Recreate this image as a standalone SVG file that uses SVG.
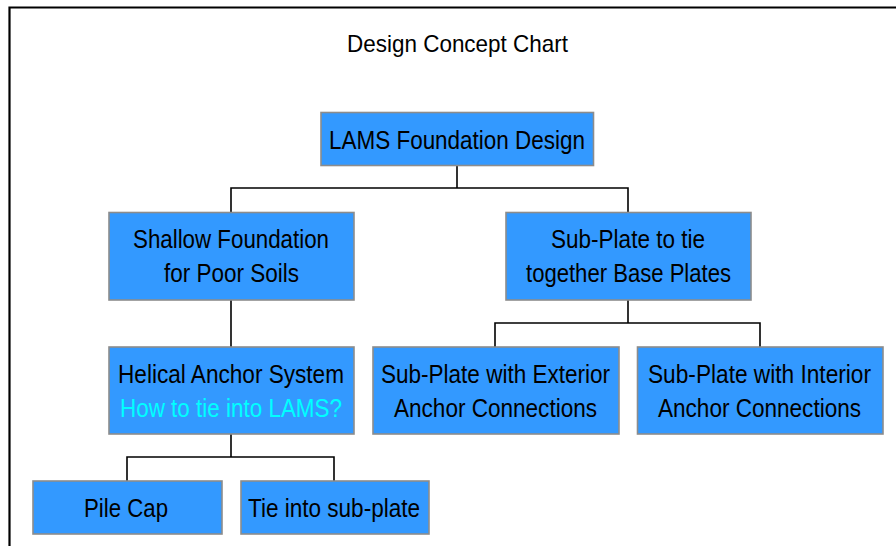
<svg xmlns="http://www.w3.org/2000/svg" width="896" height="546" viewBox="0 0 896 546">
<style>
.box{fill:#3399FF;stroke:#8C8C8C;stroke-width:1.6}
.t{font-family:"Liberation Sans",Arial,sans-serif;font-size:25.5px;fill:#000;text-anchor:middle}
.c{fill:none;stroke:#000;stroke-width:1.6}
</style>
<rect width="896" height="546" fill="#fff"/>
<path d="M9.5,546 V7.5 H896" fill="none" stroke="#000" stroke-width="2.2"/>
<text x="457.5" y="51.5" class="t" style="font-size:24px" textLength="221" lengthAdjust="spacingAndGlyphs">Design Concept Chart</text>
<g id="connectors">
<path class="c" d="M457,165 V188 M231,212 V188 H628 V212"/>
<path class="c" d="M628,300 V323 M495,347 V323 H760 V347"/>
<path class="c" d="M231,300 V347"/>
<path class="c" d="M231,434 V457 M127,481 V457 H334 V481"/>
</g>
<g id="lams"><rect class="box" x="321" y="112.5" width="272.5" height="53"/><text class="t" x="457" y="148.5" textLength="256" lengthAdjust="spacingAndGlyphs">LAMS Foundation Design</text></g>
<g id="shallow"><rect class="box" x="109" y="212.5" width="245" height="87.5"/><text class="t" x="231" y="247.5" textLength="196" lengthAdjust="spacingAndGlyphs">Shallow Foundation</text><text class="t" x="231.5" y="281.5" textLength="135" lengthAdjust="spacingAndGlyphs">for Poor Soils</text></g>
<g id="subplate"><rect class="box" x="506" y="212.5" width="245" height="87.5"/><text class="t" x="628" y="247.5" textLength="154" lengthAdjust="spacingAndGlyphs">Sub-Plate to tie</text><text class="t" x="628.5" y="281.5" textLength="205" lengthAdjust="spacingAndGlyphs">together Base Plates</text></g>
<g id="helical"><rect class="box" x="109" y="347" width="245" height="87"/><text class="t" x="231" y="382.5" textLength="226" lengthAdjust="spacingAndGlyphs">Helical Anchor System</text><text class="t" x="231" y="416.5" style="fill:#00FFFF" textLength="222" lengthAdjust="spacingAndGlyphs">How to tie into LAMS?</text></g>
<g id="exterior"><rect class="box" x="373" y="347" width="246" height="87"/><text class="t" x="495.5" y="382.5" textLength="229" lengthAdjust="spacingAndGlyphs">Sub-Plate with Exterior</text><text class="t" x="495.5" y="416.5" textLength="203" lengthAdjust="spacingAndGlyphs">Anchor Connections</text></g>
<g id="interior"><rect class="box" x="637.5" y="347" width="245.5" height="87"/><text class="t" x="759.5" y="382.5" textLength="223" lengthAdjust="spacingAndGlyphs">Sub-Plate with Interior</text><text class="t" x="759.5" y="416.5" textLength="203" lengthAdjust="spacingAndGlyphs">Anchor Connections</text></g>
<g id="pilecap"><rect class="box" x="33" y="481" width="189" height="53"/><text class="t" x="126" y="516.5" textLength="84" lengthAdjust="spacingAndGlyphs">Pile Cap</text></g>
<g id="tie"><rect class="box" x="241" y="481" width="188" height="53"/><text class="t" x="334" y="516.5" textLength="172" lengthAdjust="spacingAndGlyphs">Tie into sub-plate</text></g>
</svg>
